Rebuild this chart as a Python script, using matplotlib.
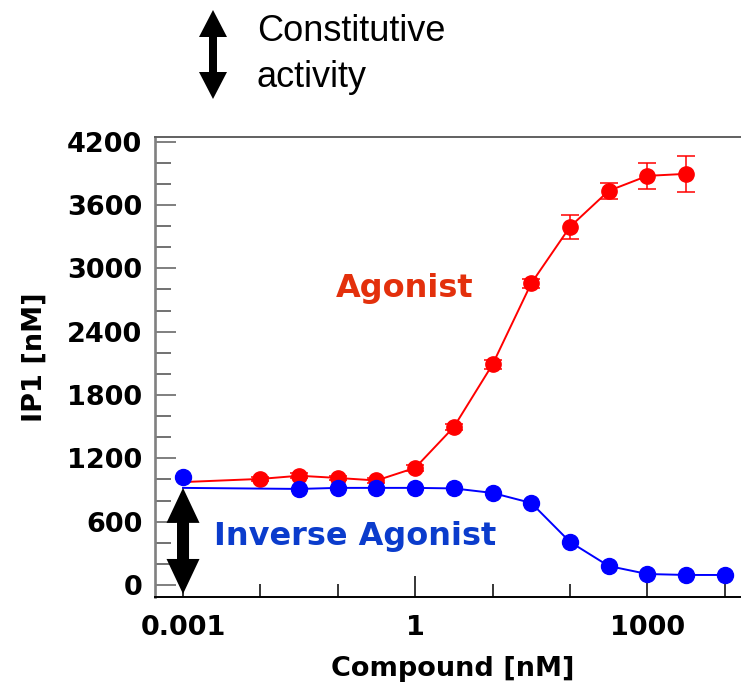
import numpy as np
import matplotlib
matplotlib.use("Agg")
import matplotlib.pyplot as plt
from matplotlib.patches import FancyArrow
from matplotlib.transforms import IdentityTransform
from matplotlib.ticker import FixedLocator, NullFormatter, MultipleLocator

# half-log dilution series, IP1
agonist_conc = [0.01, 0.0316, 0.1, 0.316, 1, 3.16, 10, 31.6, 100, 316, 1000, 3160]
agonist_ip1 = [1005, 1035, 1014, 990, 1110, 1497, 2090, 2858, 3393, 3734, 3876, 3895]
agonist_err = [20, 25, 20, 20, 30, 30, 40, 40, 115, 75, 120, 170]

inverse_conc = [0.001, 0.0316, 0.1, 0.316, 1, 3.16, 10, 31.6, 100, 316, 1000, 3160, 10000]
inverse_ip1 = [1024, 910, 920, 920, 920, 915, 872, 777, 408, 180, 104, 95, 95]

# fitted curves begin flat at the lowest concentration
curve_start_conc = 0.001
agonist_curve_start = 975
inverse_curve_start = 920

x_major = [0.001, 1, 1000]
x_major_labels = ["0.001", "1", "1000"]
x_minor = [0.01, 0.1, 10, 100, 10000]

W, H = 741, 684
fig = plt.figure(figsize=(W / 100, H / 100), dpi=100)
fig.patch.set_facecolor("white")

# axes box in pixels: left 155, right past the edge, top 137, bottom 596.5
ax = fig.add_axes([155 / W, 1 - 596.5 / H, 595 / W, (596.5 - 136.7) / H])
ax.set_xscale("log")
ax.set_xlim(10 ** -3.362, 10 ** 4.326)
ax.set_ylim(-109, 4247)

red = "#ff0000"
blue = "#0000ff"

# agonist
ax.plot([curve_start_conc] + agonist_conc, [agonist_curve_start] + agonist_ip1,
        color=red, lw=1.4, zorder=2)
ax.errorbar(agonist_conc, agonist_ip1, yerr=agonist_err, fmt="o", color=red,
            ms=11, elinewidth=1.1, capsize=6.5, capthick=1.1, zorder=3)

# inverse agonist
ax.plot([curve_start_conc] + inverse_conc[1:], [inverse_curve_start] + inverse_ip1[1:],
        color=blue, lw=1.4, zorder=4)
ax.plot(inverse_conc, inverse_ip1, "o", color=blue, ms=11.5, zorder=5)

ax.text(0.74, 2728, "Agonist", color="#e3300c", fontsize=23, fontweight="bold",
        ha="center", va="baseline", family="DejaVu Sans")
ax.text(0.0025, 375, "Inverse Agonist", color="#0b3ccc", fontsize=23,
        fontweight="bold", ha="left", va="baseline", family="DejaVu Sans")

# ticks
ax.xaxis.set_major_locator(FixedLocator(x_major))
ax.set_xticklabels(x_major_labels)
ax.xaxis.set_minor_locator(FixedLocator(x_minor))
ax.xaxis.set_minor_formatter(NullFormatter())
ax.yaxis.set_major_locator(MultipleLocator(600))
ax.yaxis.set_minor_locator(MultipleLocator(200))

tick_font = dict(fontsize=19.5, fontweight="bold", family="DejaVu Sans")
for lab in ax.get_xticklabels() + ax.get_yticklabels():
    lab.set_fontsize(19.5)
    lab.set_fontweight("bold")

ax.tick_params(axis="x", which="major", direction="in", length=15, width=1.1,
               color="black", pad=13.5)
ax.tick_params(axis="x", which="minor", direction="in", length=9.5, width=1.1,
               color="black")
ax.tick_params(axis="y", which="major", direction="in", length=15, width=1.2,
               color="#6a6a6a", pad=9)
ax.tick_params(axis="y", which="minor", direction="in", length=11.5, width=1.1,
               color="#4a4a4a")
ax.tick_params(top=False, right=False, which="both")

ax.spines["right"].set_visible(False)
ax.spines["left"].set_color("#808080")
ax.spines["left"].set_linewidth(1.9)
ax.spines["top"].set_color("#606060")
ax.spines["top"].set_linewidth(1.4)
ax.spines["bottom"].set_color("black")
ax.spines["bottom"].set_linewidth(1.4)

ax.set_xlabel("Compound [nM]", **tick_font)
ax.xaxis.set_label_coords(0.5, -0.13)
ax.set_ylabel("IP1 [nM]", **tick_font)
ax.yaxis.set_label_coords(-0.18, 0.52)


def double_arrow(x, y_top, y_bot, shaft, head_w, head_l, zorder=10):
    # x, y in display pixels (origin bottom-left); each half starts inside
    # the opposite head so the two shafts overlap without a seam
    for start, end in ((y_bot + head_l, y_top), (y_top - head_l, y_bot)):
        fig.add_artist(FancyArrow(x, start, 0, end - start, width=shaft,
                                  head_width=head_w, head_length=head_l,
                                  length_includes_head=True, color="black",
                                  lw=0, transform=IdentityTransform(),
                                  zorder=zorder))


# basal (constitutive) level arrow at the lowest concentration
x0, y_top = ax.transData.transform((curve_start_conc, inverse_curve_start))
_, y_bot = ax.transData.transform((curve_start_conc, -85))
double_arrow(x0, y_top, y_bot, 12, 33, 35)

# legend arrow above the plot
double_arrow(213, H - 10, H - 99, 8, 28, 27)
fig.text(257 / W, 1 - 14 / H, "Constitutive\nactivity", fontsize=26,
         family="Liberation Sans", ha="left", va="top", linespacing=1.4)

fig.savefig("out.png", dpi=100)
